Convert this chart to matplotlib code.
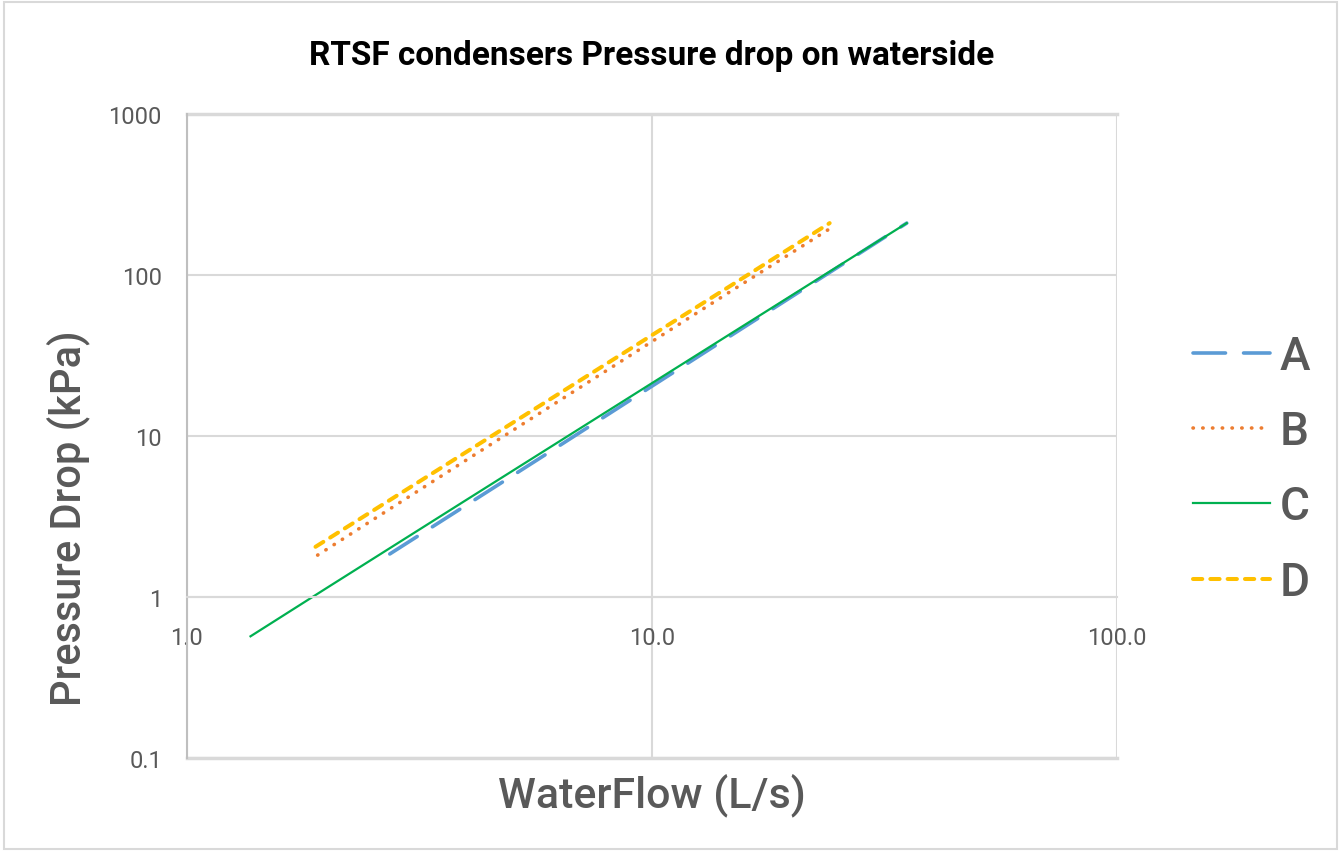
import matplotlib
matplotlib.use("Agg")
import matplotlib.pyplot as plt
from matplotlib.patches import Rectangle
from matplotlib.ticker import FixedLocator, FixedFormatter

plt.rcParams['font.family'] = ['Roboto', 'DejaVu Sans']

# datos (caudal L/s, caida de presion kPa)
flow_a = [2.73, 4.0, 6.0, 10.0, 15.0, 25.0, 35.3]
dp_a = [1.85, 3.74, 7.9, 20.4, 43.2, 111.0, 210.0]

flow_b = [1.91, 4.0, 10.0, 15.0, 24.8]
dp_b = [1.82, 7.13, 38.6, 81.5, 204.0]

flow_c = [1.37, 2.0, 4.0, 10.0, 20.0, 35.3]
dp_c = [0.57, 1.14, 4.03, 21.3, 74.9, 210.0]

flow_d = [1.89, 4.0, 10.0, 15.0, 24.1]
dp_d = [2.05, 8.0, 42.3, 88.3, 210.0]

x_ticks = [1.0, 10.0, 100.0]
x_labels = ['1.0', '10.0', '100.0']
y_ticks = [0.1, 1, 10, 100, 1000]
y_labels = ['0.1', '1', '10', '100', '1000']

gray_txt = '#595959'
grid_col = '#D9D9D9'

fig = plt.figure(figsize=(13.41, 8.53), dpi=100)
fig.patches.append(Rectangle((0.003, 0.003), 0.994, 0.994, transform=fig.transFigure,
                             fill=False, edgecolor=grid_col, linewidth=1.5))
ax = fig.add_axes([0.1394, 0.1102, 0.6936, 0.755])

ax.plot(flow_a, dp_a, color='#5B9BD5', linewidth=2.6, linestyle=(0, (9, 5)),
        dash_capstyle='round', label='A')
ax.plot(flow_b, dp_b, color='#ED7D31', linewidth=2.6, linestyle=(0, (0.1, 2.6)),
        dash_capstyle='round', label='B')
ax.plot(flow_c, dp_c, color='#00B050', linewidth=1.6, label='C')
ax.plot(flow_d, dp_d, color='#FFC000', linewidth=2.9, linestyle=(0, (2.3, 2.0)),
        dash_capstyle='round', label='D')

ax.set_xscale('log')
ax.set_yscale('log')
ax.set_xlim(1, 100)
ax.set_ylim(0.1, 1000)

ax.xaxis.set_major_locator(FixedLocator(x_ticks))
ax.xaxis.set_major_formatter(FixedFormatter(x_labels))
ax.yaxis.set_major_locator(FixedLocator(y_ticks))
ax.yaxis.set_major_formatter(FixedFormatter(y_labels))
ax.minorticks_off()
ax.tick_params(axis='both', length=0, labelsize=17, labelcolor=gray_txt)
ax.tick_params(axis='x', pad=21)
ax.tick_params(axis='y', pad=18)

ax.grid(True, color=grid_col, linewidth=1.5)
ax.set_axisbelow(True)
for side in ['top', 'right']:
    ax.spines[side].set_visible(False)
ax.spines['left'].set_color('#BFBFBF')
ax.spines['left'].set_linewidth(1.5)
# el eje x cruza en y=1 como en Excel
ax.spines['bottom'].set_position(('data', 1))
ax.spines['bottom'].set_color(grid_col)
ax.spines['bottom'].set_linewidth(1.5)
ax.axhline(0.1, color=grid_col, linewidth=2.5, clip_on=False, zorder=0)
ax.axhline(1000, color=grid_col, linewidth=2.5, clip_on=False, zorder=0)

ax.set_title('RTSF condensers Pressure drop on waterside', fontsize=24,
             fontweight='bold', color='black', pad=36)

fig.text((0.1394 + 0.8330) / 2, 0.068, 'WaterFlow (L/s)', ha='center', va='center',
         fontsize=31, color=gray_txt, fontweight='medium')
fig.text(0.051, 0.392, 'Pressure Drop (kPa)', ha='center', va='center', fontsize=30,
         color=gray_txt, rotation=90, fontweight='medium')

leg = ax.legend(loc='center left', bbox_to_anchor=(1.082, 0.449), frameon=False,
                fontsize=33, labelcolor=gray_txt, handlelength=1.68, handletextpad=0.2,
                labelspacing=0.68, borderaxespad=0, borderpad=0)
for t in leg.get_texts():
    t.set_fontweight('medium')

fig.savefig('out.png', dpi=100)
